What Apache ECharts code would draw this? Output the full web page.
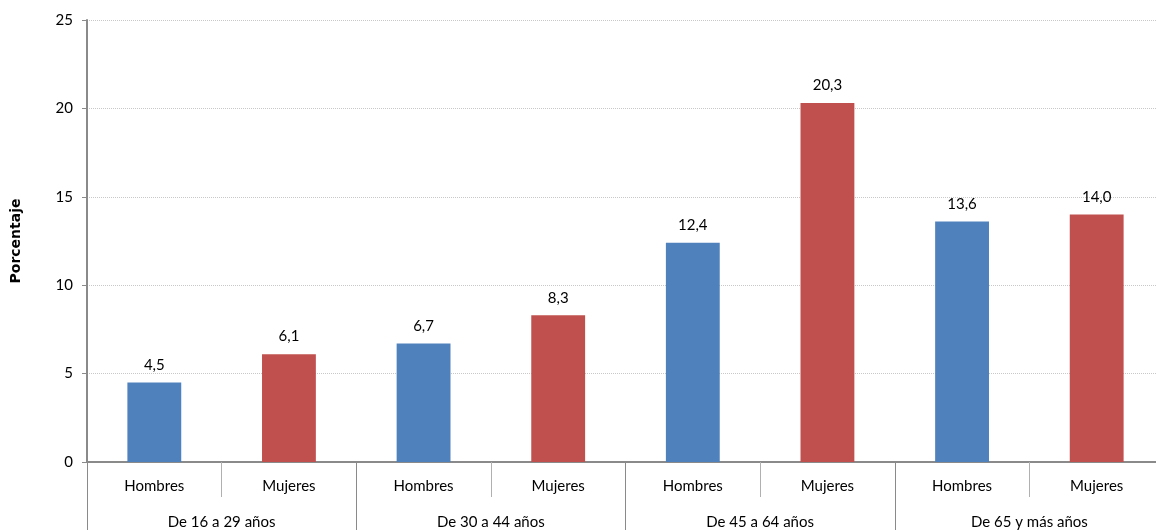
<!DOCTYPE html>
<html>
<head>
<meta charset="utf-8">
<script src="https://cdn.jsdelivr.net/npm/echarts@6/dist/echarts.min.js"></script>
<style>html,body{margin:0;padding:0;background:#fff;overflow:hidden;}#c{width:1170px;height:530px;}</style>
</head>
<body>
<div id="c"></div>
<script>
const groups = ['De 16 a 29 años', 'De 30 a 44 años', 'De 45 a 64 años', 'De 65 y más años'];
const genders = ['Hombres', 'Mujeres'];
const values = [4.5, 6.1, 6.7, 8.3, 12.4, 20.3, 13.6, 14.0];
const yTicks = [0, 5, 10, 15, 20, 25];
const colors = { Hombres: '#4F81BD', Mujeres: '#C0504D' };

const cats = [];
groups.forEach(g => genders.forEach(s => cats.push(s)));

const chart = echarts.init(document.getElementById('c'));
const font = 'Lato, "Open Sans", sans-serif';
chart.setOption({
  animation: false,
  grid: { left: 87, top: 20, width: 1077, height: 443, containLabel: false },
  xAxis: [
    {
      type: 'category', data: cats, position: 'bottom',
      axisLine: { show: true, lineStyle: { color: '#8a8a8a', width: 2 } },
      axisTick: { show: true, interval: 0, length: 35, lineStyle: { color: '#b0b0b0', width: 1 } },
      axisLabel: { interval: 0, margin: 17, color: '#000', fontSize: 15, fontFamily: font }
    },
    {
      type: 'category', data: groups, position: 'bottom',
      axisLine: { show: false },
      axisTick: { show: true, interval: 0, length: 70, lineStyle: { color: '#8a8a8a', width: 1 } },
      axisLabel: { interval: 0, margin: 53, color: '#000', fontSize: 15, fontFamily: font }
    }
  ],
  yAxis: {
    type: 'value', min: yTicks[0], max: yTicks[yTicks.length - 1], interval: 5,
    name: 'Porcentaje', nameLocation: 'middle', nameGap: 64, nameRotate: 90,
    nameTextStyle: { fontSize: 14, fontWeight: 'bold', color: '#000', fontFamily: '"DejaVu Sans", Verdana, sans-serif' },
    axisLine: { show: true, lineStyle: { color: '#8a8a8a', width: 2 } },
    axisTick: { show: true, length: 5, lineStyle: { color: '#8a8a8a' } },
    axisLabel: { margin: 14, color: '#000', fontSize: 15, fontFamily: font },
    splitLine: { show: true, lineStyle: { color: '#c8c8c8', type: 'dotted', width: 1 } }
  },
  series: [{
    type: 'bar', xAxisIndex: 0, barWidth: '40%',
    data: values.map((v, i) => ({ value: v, itemStyle: { color: colors[cats[i]] } })),
    label: {
      show: true, position: 'top', distance: 10, color: '#000', fontSize: 15, fontFamily: font,
      formatter: p => p.value.toFixed(1).replace('.', ',')
    }
  }]
});
</script>
</body>
</html>
